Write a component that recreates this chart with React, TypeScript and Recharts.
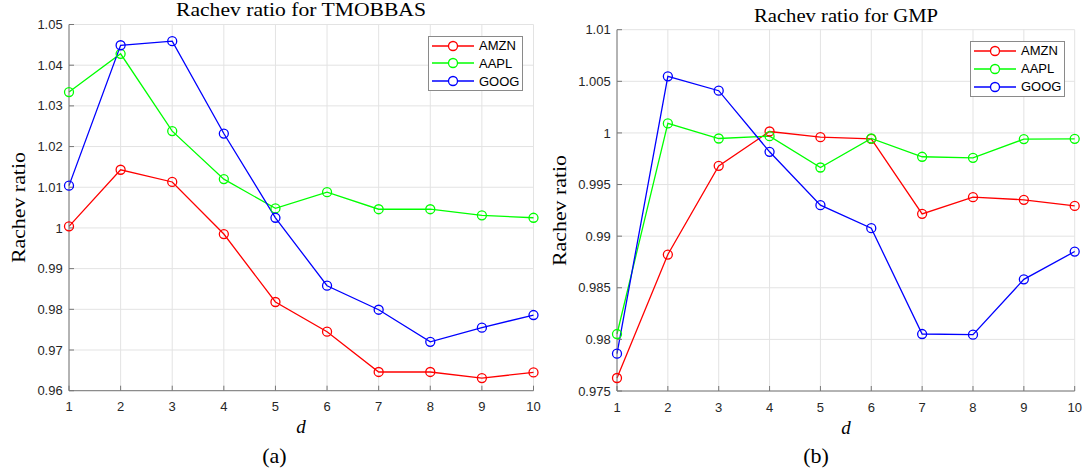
import React from 'react';
import { LineChart, Line, XAxis, YAxis, CartesianGrid, Legend } from 'recharts';

// ---------- data ----------
const dValues = [1, 2, 3, 4, 5, 6, 7, 8, 9, 10];
const seriesNames = ['AMZN', 'AAPL', 'GOOG'];
const seriesColors = ['#ff0000', '#00ff00', '#0000ff'];

const tmobbasAMZN = [1.0004, 1.0143, 1.0113, 0.9985, 0.9818, 0.9745, 0.9646, 0.9646, 0.9631, 0.9645];
const tmobbasAAPL = [1.0334, 1.0428, 1.0238, 1.012, 1.0048, 1.0088, 1.0046, 1.0046, 1.0031, 1.0025];
const tmobbasGOOG = [1.0104, 1.0449, 1.0459, 1.0232, 1.0025, 0.9858, 0.9799, 0.972, 0.9755, 0.9786];

const gmpAMZN = [0.97626, 0.98822, 0.99681, 1.00014, 0.99959, 0.99943, 0.99216, 0.99378, 0.99352, 0.99293];
const gmpAAPL = [0.98052, 1.00092, 0.99946, 0.99969, 0.99665, 0.99946, 0.99769, 0.99759, 0.9994, 0.99943];
const gmpGOOG = [0.97862, 1.00548, 1.00409, 0.99817, 0.993, 0.99077, 0.98052, 0.98046, 0.98582, 0.98851];

const tmobbasTicks = [0.96, 0.97, 0.98, 0.99, 1, 1.01, 1.02, 1.03, 1.04, 1.05];
const tmobbasTickLabels = ['0.96', '0.97', '0.98', '0.99', '1', '1.01', '1.02', '1.03', '1.04', '1.05'];
const gmpTicks = [0.975, 0.98, 0.985, 0.99, 0.995, 1, 1.005, 1.01];
const gmpTickLabels = ['0.975', '0.98', '0.985', '0.99', '0.995', '1', '1.005', '1.01'];

const xTickLabels = ['1', '2', '3', '4', '5', '6', '7', '8', '9', '10'];

const titleA = 'Rachev ratio for TMOBBAS';
const titleB = 'Rachev ratio for GMP';
const yLabel = 'Rachev ratio';
const xLabel = 'd';
const captionA = '(a)';
const captionB = '(b)';

function buildData(a: number[], b: number[], c: number[]) {
  return dValues.map((d, i) => ({ d, AMZN: a[i], AAPL: b[i], GOOG: c[i] }));
}

const dataA = buildData(tmobbasAMZN, tmobbasAAPL, tmobbasGOOG);
const dataB = buildData(gmpAMZN, gmpAAPL, gmpGOOG);

// ---------- styles ----------
const AXIS_COLOR = '#777777';
const GRID_COLOR = '#e3e3e3';
const TICK_STYLE = { fill: '#262626', fontSize: 13, fontFamily: '"Liberation Sans", Arial, sans-serif' };
const SERIF = '"Liberation Serif", "Times New Roman", serif';

function labelFor(ticks: number[], labels: string[]) {
  return (v: number) => {
    const i = ticks.findIndex((t) => Math.abs(t - v) < 1e-9);
    return i >= 0 ? labels[i] : String(v);
  };
}

type LegendPos = { left: number; top: number; height: number };

function LegendBox(props: any) {
  const payload = [...(props.payload || [])].sort(
    (a: any, b: any) => seriesNames.indexOf(a.value) - seriesNames.indexOf(b.value)
  );
  const rowH = (props.boxHeight - 2) / 3;
  return (
    <div
      style={{
        background: '#fff',
        border: '1px solid #8a8a8a',
        width: 95,
        height: props.boxHeight,
        boxSizing: 'border-box',
      }}
    >
      {payload.map((p: any) => (
        <div key={p.value} style={{ display: 'flex', alignItems: 'center', height: rowH }}>
          <svg width={50} height={12} style={{ display: 'block' }}>
            <line x1={3} y1={6} x2={45} y2={6} stroke={p.color} strokeWidth={1.3} />
            <circle cx={24} cy={6} r={4.5} fill="#fff" stroke={p.color} strokeWidth={1.3} />
          </svg>
          <span style={{ fontFamily: '"Liberation Sans", Arial, sans-serif', fontSize: 13, color: '#000', lineHeight: '13px' }}>
            {p.value}
          </span>
        </div>
      ))}
    </div>
  );
}

type PanelProps = {
  data: any[];
  ticks: number[];
  labels: string[];
  margin: { top: number; right: number; left: number; bottom: number };
  yWidth: number;
  legend: LegendPos;
};

function Panel({ data, ticks, labels, margin, yWidth, legend }: PanelProps) {
  const domain: [number, number] = [ticks[0], ticks[ticks.length - 1]];
  return (
    <LineChart width={543} height={472} data={data} margin={margin}>
      <CartesianGrid stroke={GRID_COLOR} strokeWidth={1} />
      <XAxis
        dataKey="d"
        type="number"
        domain={[1, 10]}
        ticks={dValues}
        interval={0}
        allowDecimals={false}
        height={30}
        stroke={AXIS_COLOR}
        tickSize={-5}
        tickMargin={16.5}
        tick={TICK_STYLE}
        tickFormatter={labelFor(dValues, xTickLabels)}
      />
      <XAxis
        xAxisId="top"
        orientation="top"
        dataKey="d"
        type="number"
        domain={[1, 10]}
        ticks={dValues}
        interval={0}
        height={0}
        stroke={AXIS_COLOR}
        tickSize={-5}
        tick={false}
      />
      <YAxis
        type="number"
        domain={domain}
        ticks={ticks}
        interval={0}
        width={yWidth}
        stroke={AXIS_COLOR}
        tickSize={-5}
        tickMargin={11.3}
        tick={TICK_STYLE}
        tickFormatter={labelFor(ticks, labels)}
        allowDataOverflow
      />
      <YAxis
        yAxisId="right"
        orientation="right"
        type="number"
        domain={domain}
        ticks={ticks}
        interval={0}
        width={0}
        stroke={AXIS_COLOR}
        tickSize={-5}
        tick={false}
        allowDataOverflow
      />
      {seriesNames.map((name, i) => (
        <Line
          key={name}
          type="linear"
          dataKey={name}
          name={name}
          stroke={seriesColors[i]}
          strokeWidth={1.3}
          dot={{ r: 4.5, fill: 'none', stroke: seriesColors[i], strokeWidth: 1.3 }}
          activeDot={false}
          isAnimationActive={false}
        />
      ))}
      <Legend
        layout="vertical"
        align="center"
        verticalAlign="middle"
        itemSorter={null as any}
        content={(p: any) => <LegendBox {...p} boxHeight={legend.height} />}
        wrapperStyle={{ position: 'absolute', left: legend.left, top: legend.top, width: 'auto', height: 'auto' }}
      />
    </LineChart>
  );
}

export default function App() {
  return (
    <div style={{ position: 'absolute', left: 0, top: 0, width: 1086, height: 472, background: '#fff', overflow: 'hidden' }}>
      <div style={{ position: 'absolute', left: 0, top: 0 }}>
        <Panel
          data={dataA}
          ticks={tmobbasTicks}
          labels={tmobbasTickLabels}
          margin={{ top: 24.5, right: 9.5, left: 0, bottom: 51.3 }}
          yWidth={69}
          legend={{ left: 428, top: 36, height: 55 }}
        />
      </div>
      <div style={{ position: 'absolute', left: 543, top: 0 }}>
        <Panel
          data={dataB}
          ticks={gmpTicks}
          labels={gmpTickLabels}
          margin={{ top: 29.7, right: 11.3, left: 0, bottom: 51 }}
          yWidth={74}
          legend={{ left: 427, top: 40.5, height: 56 }}
        />
      </div>
      <svg width={1086} height={472} style={{ position: 'absolute', left: 0, top: 0, pointerEvents: 'none' }}>
        <g fontFamily={SERIF} fill="#000">
          <text x={301} y={16} fontSize={19} textAnchor="middle" textLength={250} lengthAdjust="spacingAndGlyphs">{titleA}</text>
          <text x={846} y={21.7} fontSize={19} textAnchor="middle" textLength={184} lengthAdjust="spacingAndGlyphs">{titleB}</text>
          <text transform="translate(25,207.6) rotate(-90)" fontSize={19} textAnchor="middle" textLength={111} lengthAdjust="spacingAndGlyphs">{yLabel}</text>
          <text transform="translate(565.5,210.5) rotate(-90)" fontSize={19} textAnchor="middle" textLength={111} lengthAdjust="spacingAndGlyphs">{yLabel}</text>
          <text x={301} y={433} fontSize={19} fontStyle="italic" textAnchor="middle">{xLabel}</text>
          <text x={846} y={433.5} fontSize={19} fontStyle="italic" textAnchor="middle">{xLabel}</text>
          <text x={274.5} y={462.5} fontSize={22} textAnchor="middle">{captionA}</text>
          <text x={816} y={462.5} fontSize={22} textAnchor="middle">{captionB}</text>
        </g>
      </svg>
    </div>
  );
}
